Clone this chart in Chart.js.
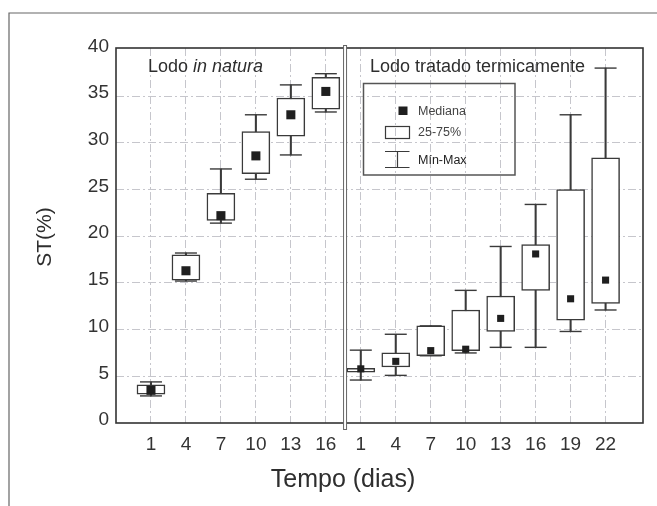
<!DOCTYPE html>
<html>
<head>
<meta charset="utf-8">
<title>ST(%) x Tempo</title>
<script src="https://cdn.jsdelivr.net/npm/chart.js@4.4.1/dist/chart.umd.min.js"></script>
<style>
  html, body { margin: 0; padding: 0; background: #fff; }
  canvas { display: block; }
</style>
</head>
<body>
<canvas id="stChart" width="657" height="506"></canvas>
<script>
// Lodo in natura
const diasNatura = ['1', '4', '7', '10', '13', '16'];
const naturaMin = [2.9, 15.2, 21.4, 26.1, 28.7, 33.3];
const naturaQ1 = [3.1, 15.3, 21.7, 26.7, 30.7, 33.6];
const naturaMediana = [3.5, 16.3, 22.2, 28.6, 33.0, 35.5];
const naturaQ3 = [4.1, 18.0, 24.6, 31.2, 34.8, 37.0];
const naturaMax = [4.4, 18.2, 27.2, 33.0, 36.2, 37.4];

// Lodo tratado termicamente
const diasTratado = ['1', '4', '7', '10', '13', '16', '19', '22'];
const tratadoMin = [4.6, 5.1, 7.2, 7.5, 8.1, 8.1, 9.8, 12.1];
const tratadoQ1 = [5.45, 6.0, 7.2, 7.75, 9.8, 14.2, 11.0, 12.8];
const tratadoMediana = [5.8, 6.6, 7.75, 7.9, 11.2, 18.1, 13.3, 15.3];
const tratadoQ3 = [5.85, 7.5, 10.4, 12.1, 13.6, 19.1, 25.0, 28.4];
const tratadoMax = [7.8, 9.5, 10.4, 14.2, 18.9, 23.4, 33.0, 38.0];

const yTicks = [0, 5, 10, 15, 20, 25, 30, 35, 40];

const FONT = '"Liberation Sans", Arial, Helvetica, sans-serif';
const LINE = '#3a3a3a';
const GRID = '#c6c6cc';

// both groups share one x axis, one slot per day
const labels = diasNatura.concat(diasTratado);
const posicoes = labels.map((_, i) => i);
const minimos = naturaMin.concat(tratadoMin);
const q1 = naturaQ1.concat(tratadoQ1);
const medianas = naturaMediana.concat(tratadoMediana);
const q3 = naturaQ3.concat(tratadoQ3);
const maximos = naturaMax.concat(tratadoMax);
const divisao = diasNatura.length - 0.45;

const decor = {
    id: 'decor',
    afterDraw(chart) {
        const ctx = chart.ctx;
        const area = chart.chartArea;
        const xs = chart.scales.x;
        ctx.save();

        // outer frame (top + left only)
        ctx.strokeStyle = '#666';
        ctx.lineWidth = 1.2;
        ctx.beginPath();
        ctx.moveTo(9, 506);
        ctx.lineTo(9, 13);
        ctx.lineTo(657, 13);
        ctx.stroke();

        // plot frame
        ctx.strokeStyle = '#333';
        ctx.lineWidth = 1.6;
        ctx.strokeRect(area.left, area.top, area.right - area.left, area.bottom - area.top);

        // double divider between the two groups
        const dx = xs.getPixelForValue(divisao);
        ctx.fillStyle = '#fff';
        ctx.fillRect(dx - 1.5, 45, 3, 384);
        ctx.strokeStyle = '#666';
        ctx.lineWidth = 1;
        ctx.strokeRect(dx - 1.5, 45.5, 3, 384);

        // group titles
        ctx.fillStyle = '#2e2e2e';
        ctx.textBaseline = 'alphabetic';
        ctx.textAlign = 'left';
        ctx.font = '18px ' + FONT;
        ctx.fillText('Lodo ', 148, 72);
        const w = ctx.measureText('Lodo ').width;
        ctx.font = 'italic 18px ' + FONT;
        ctx.fillText('in natura', 148 + w, 72);
        ctx.font = '18px ' + FONT;
        ctx.fillText('Lodo tratado termicamente', 370, 72);

        // legend box
        ctx.strokeStyle = '#555';
        ctx.lineWidth = 1.5;
        ctx.strokeRect(363.5, 83.5, 151.5, 91.5);
        ctx.fillStyle = '#1f1f1f';
        ctx.fillRect(398.5, 106.5, 9, 8.5);
        ctx.strokeStyle = LINE;
        ctx.lineWidth = 1.2;
        ctx.strokeRect(385.5, 126.5, 24, 12);
        ctx.beginPath();
        ctx.moveTo(385, 151.5); ctx.lineTo(409.5, 151.5);
        ctx.moveTo(385, 167.5); ctx.lineTo(409.5, 167.5);
        ctx.moveTo(397.5, 151.5); ctx.lineTo(397.5, 167.5);
        ctx.stroke();
        ctx.fillStyle = '#444';
        ctx.font = '12.5px ' + FONT;
        ctx.fillText('Mediana', 418, 115);
        ctx.fillText('25-75%', 418, 136);
        ctx.fillStyle = '#222';
        ctx.fillText('Mín-Max', 418, 164);

        // axis titles
        ctx.fillStyle = '#2e2e2e';
        ctx.textAlign = 'center';
        ctx.font = '25px ' + FONT;
        ctx.fillText('Tempo (dias)', 343, 486.5);
        ctx.translate(45, 237);
        ctx.rotate(-Math.PI / 2);
        ctx.textBaseline = 'middle';
        ctx.font = '21px ' + FONT;
        ctx.fillText('ST(%)', 0, 0);

        ctx.restore();
    }
};

new Chart(document.getElementById('stChart'), {
    type: 'bar',
    data: {
        datasets: [
            {
                type: 'scatter',
                label: 'Mediana',
                data: posicoes.map((x, i) => ({ x: x, y: medianas[i] })),
                pointStyle: 'rect',
                pointRadius: c => c.dataIndex < diasNatura.length ? 6.4 : 5,
                backgroundColor: '#1f1f1f',
                borderWidth: 0,
                order: 0
            },
            {
                type: 'bar',
                label: '25-75%',
                data: posicoes.map((x, i) => ({ x: x, y: [q1[i], q3[i]] })),
                backgroundColor: '#fff',
                borderColor: LINE,
                borderWidth: 1.5,
                borderSkipped: false,
                barThickness: 28,
                grouped: false,
                order: 1
            },
            {
                type: 'scatter',
                label: 'Max',
                data: posicoes.map((x, i) => ({ x: x, y: maximos[i] })),
                pointStyle: 'line',
                pointRadius: 11,
                borderColor: LINE,
                borderWidth: 1.4,
                order: 2
            },
            {
                type: 'scatter',
                label: 'Min',
                data: posicoes.map((x, i) => ({ x: x, y: minimos[i] })),
                pointStyle: 'line',
                pointRadius: 11,
                borderColor: LINE,
                borderWidth: 1.4,
                order: 2
            },
            {
                type: 'bar',
                label: 'Mín-Max',
                data: posicoes.map((x, i) => ({ x: x, y: [minimos[i], maximos[i]] })),
                backgroundColor: LINE,
                borderWidth: 0,
                barThickness: 1.4,
                grouped: false,
                order: 3
            }
        ]
    },
    options: {
        responsive: false,
        animation: false,
        layout: { padding: { top: 48, right: 14, left: 0, bottom: 0 } },
        plugins: {
            legend: { display: false },
            tooltip: { enabled: false }
        },
        scales: {
            x: {
                type: 'linear',
                offset: false,
                min: -1,
                max: 14.07,
                afterBuildTicks: s => { s.ticks = posicoes.map(v => ({ value: v })); },
                afterFit: s => { s.height = 83; },
                ticks: {
                    autoSkip: false,
                    maxRotation: 0,
                    padding: 10,
                    color: '#333',
                    font: { family: FONT, size: 19 },
                    callback: v => labels[Math.round(v)]
                },
                grid: { offset: false, color: GRID, lineWidth: 1, drawTicks: false },
                border: { display: false, dash: [8, 3, 2, 3] }
            },
            y: {
                type: 'linear',
                min: 0,
                max: 40.15,
                afterBuildTicks: s => { s.ticks = yTicks.map(v => ({ value: v })); },
                afterFit: s => { s.width = 116; },
                ticks: {
                    padding: 7,
                    labelOffset: -3,
                    color: '#333',
                    font: { family: FONT, size: 19 },
                    callback: v => String(v)
                },
                grid: {
                    color: c => (c.tick && (c.tick.value === 0 || c.tick.value === 40)) ? 'rgba(0,0,0,0)' : GRID,
                    lineWidth: 1,
                    drawTicks: false
                },
                border: { display: false, dash: [8, 3, 2, 3] }
            }
        }
    },
    plugins: [decor]
});
</script>
</body>
</html>
